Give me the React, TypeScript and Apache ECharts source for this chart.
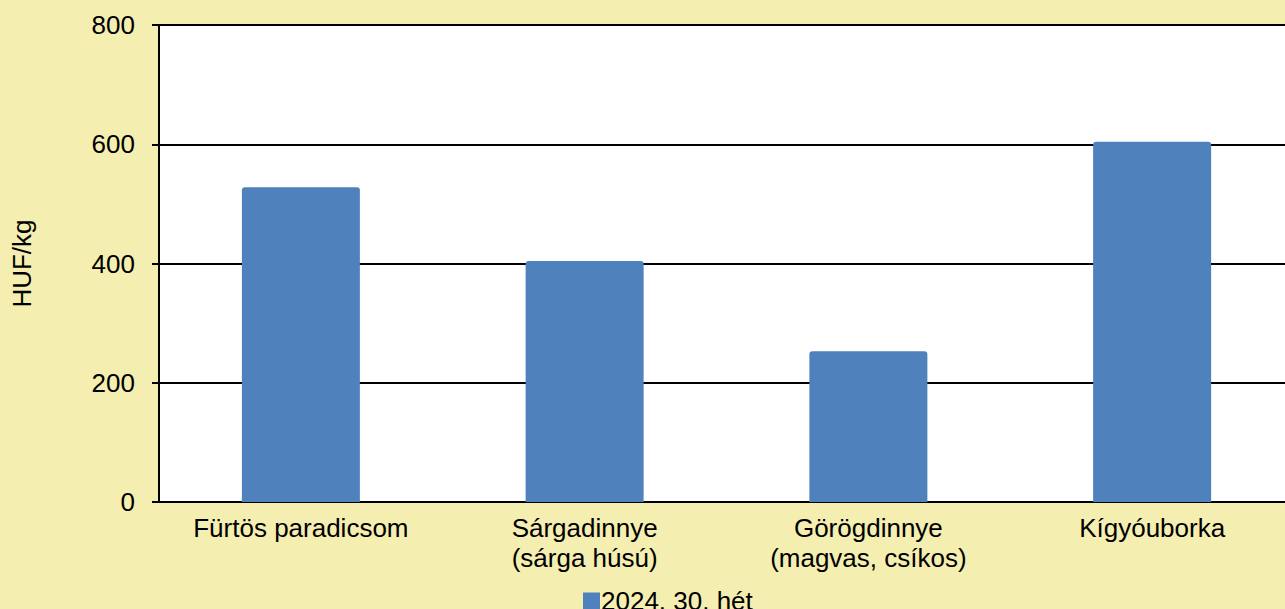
import React, { useEffect, useRef } from "react";
import * as echarts from "echarts";

const categories = [
  "Fürtös paradicsom",
  "Sárgadinnye\n(sárga húsú)",
  "Görögdinnye\n(magvas, csíkos)",
  "Kígyóuborka",
];
const seriesName = "2024. 30. hét";
const values = [528, 404, 253, 604];
const yTicks = [0, 200, 400, 600, 800];

const FONT = "Liberation Sans, Arial, sans-serif";

export default function App() {
  const ref = useRef<HTMLDivElement>(null);
  useEffect(() => {
    if (!ref.current) return;
    const chart = echarts.init(ref.current, undefined, { renderer: "svg" });
    chart.setOption({
      animation: false,
      backgroundColor: "#F4EEB1",
      textStyle: { fontFamily: FONT },
      grid: {
        left: 159,
        top: 25,
        width: 1135,
        bottom: 107,
        outerBoundsMode: "none",
        containLabel: false,
        show: true,
        backgroundColor: "#FFFFFF",
        borderWidth: 0,
      },
      legend: {
        data: [seriesName],
        left: 578,
        top: 583,
        itemWidth: 17,
        itemHeight: 17,
        itemGap: 10,
        icon: "rect",
        textStyle: { fontFamily: FONT, fontSize: 26, color: "#000", padding: [0, 0, 0, -4] },
      },
      xAxis: {
        type: "category",
        data: categories,
        axisLine: { show: true, lineStyle: { color: "#000", width: 2 } },
        axisTick: { show: false },
        axisLabel: {
          interval: 0,
          margin: 11,
          fontFamily: FONT,
          fontSize: 26,
          color: "#000",
          lineHeight: 30,
        },
      },
      yAxis: {
        type: "value",
        min: 0,
        max: yTicks[yTicks.length - 1],
        interval: 200,
        name: "HUF/kg",
        nameLocation: "middle",
        nameGap: 124,
        nameRotate: 90,
        nameTextStyle: { fontFamily: FONT, fontSize: 26, color: "#000" },
        axisLine: { show: true, lineStyle: { color: "#000", width: 2 } },
        axisTick: { show: true, length: 7, lineStyle: { color: "#000", width: 2 } },
        axisLabel: {
          margin: 24,
          fontFamily: FONT,
          fontSize: 26,
          color: "#000",
        },
        splitLine: { show: true, lineStyle: { color: "#000", width: 2 } },
      },
      series: [
        {
          name: seriesName,
          type: "bar",
          data: values,
          barWidth: 118,
          itemStyle: { color: "#4F81BD", borderRadius: [3, 3, 0, 0] },
        },
      ],
    });
    return () => chart.dispose();
  }, []);
  return (
    <div
      ref={ref}
      style={{ position: "fixed", left: 0, top: 0, width: 1285, height: 609 }}
    />
  );
}
